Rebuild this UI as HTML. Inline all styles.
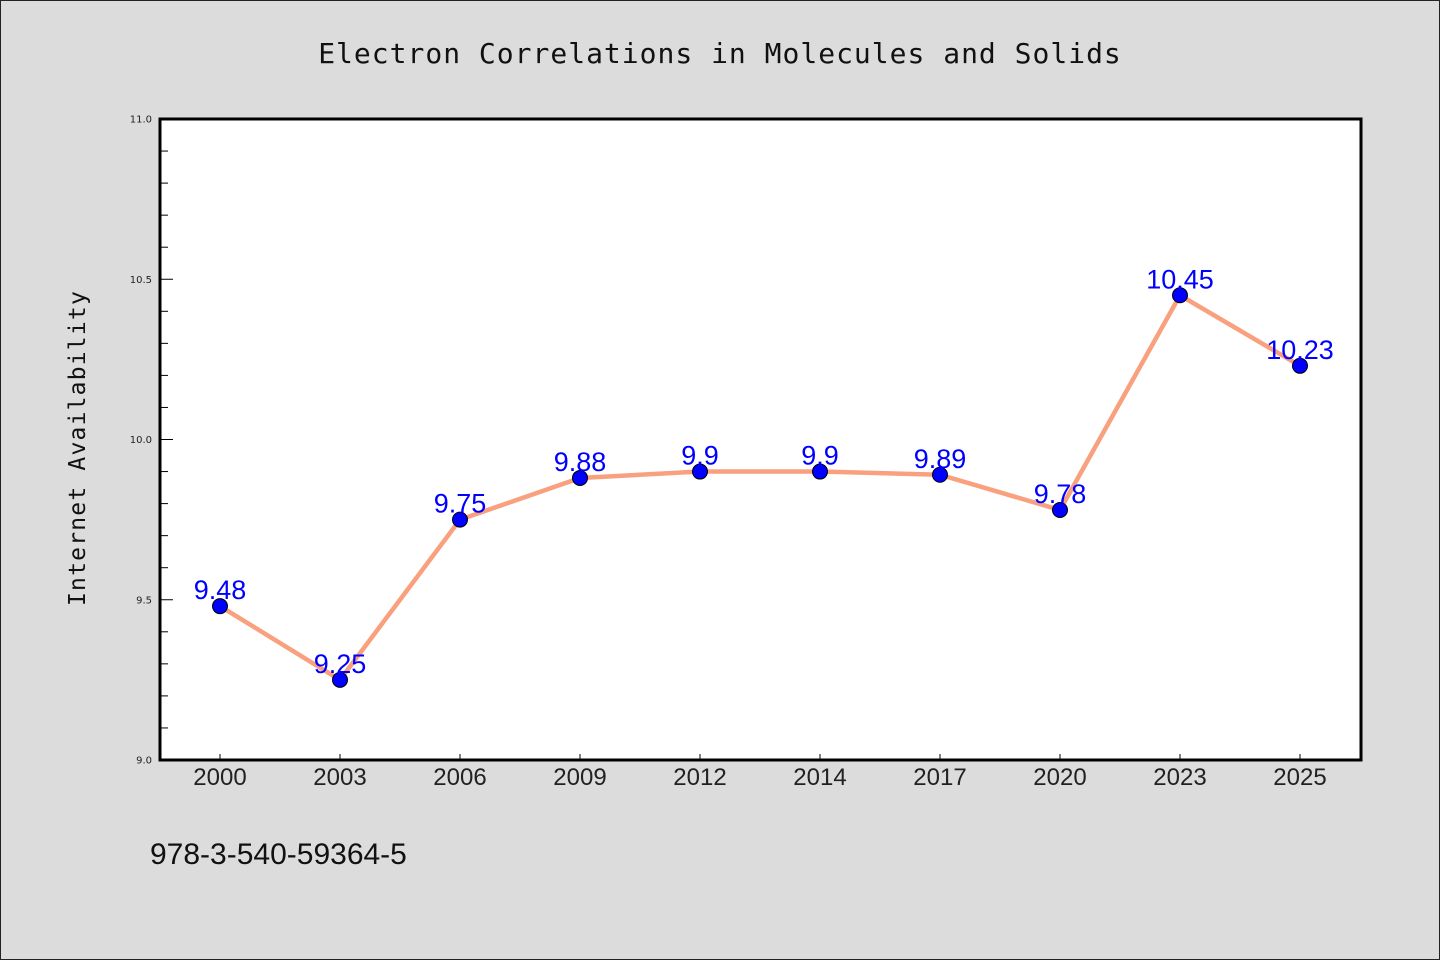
<!DOCTYPE html>
<html><head><meta charset="utf-8"><style>
body{margin:0;background:#dcdcdc;font-family:"Liberation Sans","Noto Sans CJK SC",sans-serif}
svg{display:block}
</style></head><body>
<svg width="1440" height="960" id="c">
<rect x="0.5" y="0.5" width="1439" height="959" fill="#dcdcdc" stroke="#222"/>
<text x="720" y="63" text-anchor="middle" font-size="28" letter-spacing="1" fill="#111" font-family="DejaVu Sans Mono, monospace">Electron Correlations in Molecules and Solids</text>
<rect x="160" y="119" width="1201" height="641" fill="#fff"/>
<text transform="translate(85,448) rotate(-90)" text-anchor="middle" font-size="23" letter-spacing="1.2" fill="#111" font-family="DejaVu Sans Mono, monospace">Internet Availability</text>
<text x="150" y="864" font-size="30" fill="#111" font-family="WenQuanYi Zen Hei, sans-serif">978-3-540-59364-5</text>
<g id="ticks"></g><g id="marks"></g>
<rect x="160" y="119" width="1201" height="641" fill="none" stroke="#000" stroke-width="3"/>
</svg>
<script>
const categories=["2000","2003","2006","2009","2012","2014","2017","2020","2023","2025"];
const values=[9.48,9.25,9.75,9.88,9.9,9.9,9.89,9.78,10.45,10.23];
const yTickLabels=["9.0","9.5","10.0","10.5","11.0"];
const NS="http://www.w3.org/2000/svg";
const y=v=>760-(v-9)*320.5;
const x=i=>220+i*120;
function mk(t,a,p){const e=document.createElementNS(NS,t);for(const k in a)e.setAttribute(k,a[k]);p.appendChild(e);return e;}
const T=document.getElementById('ticks'),M=document.getElementById('marks');
for(let k=0;k<=20;k++){const v=9+k*0.1,yy=y(v),maj=k%5===0;
 const l=mk('line',{x1:160,x2:160+(maj?13:8),y1:yy,y2:yy,stroke:'#000','stroke-width':1},T);
 
 }
yTickLabels.forEach(s=>{const t=mk('text',{x:152,y:y(parseFloat(s))+3.5,'text-anchor':'end','font-size':10,fill:'#222','font-family':'DejaVu Sans, sans-serif'},T);t.textContent=s;
 
 });
categories.forEach((c,i)=>{const l=mk('line',{x1:x(i),x2:x(i),y1:760,y2:754,stroke:'#000'},T);
 
 
 const t=mk('text',{x:x(i),y:785,'text-anchor':'middle','font-size':24,fill:'#222','font-family':'WenQuanYi Zen Hei, sans-serif'},T);t.textContent=c;
 
 });
const pl=mk('polyline',{points:values.map((v,i)=>x(i)+','+y(v)).join(' '),fill:'none',stroke:'#f9a07e','stroke-width':4.5},M);


values.forEach((v,i)=>{const c=mk('circle',{cx:x(i),cy:y(v),r:7.5,fill:'#0000ff',stroke:'#000','stroke-width':1},M);
 
 
 const t=mk('text',{x:x(i),y:y(v)-7,'text-anchor':'middle','font-size':27,fill:'#0000ff','font-family':'WenQuanYi Zen Hei, sans-serif'},M);t.textContent=String(v);
 
 });
</script>
</body></html>
